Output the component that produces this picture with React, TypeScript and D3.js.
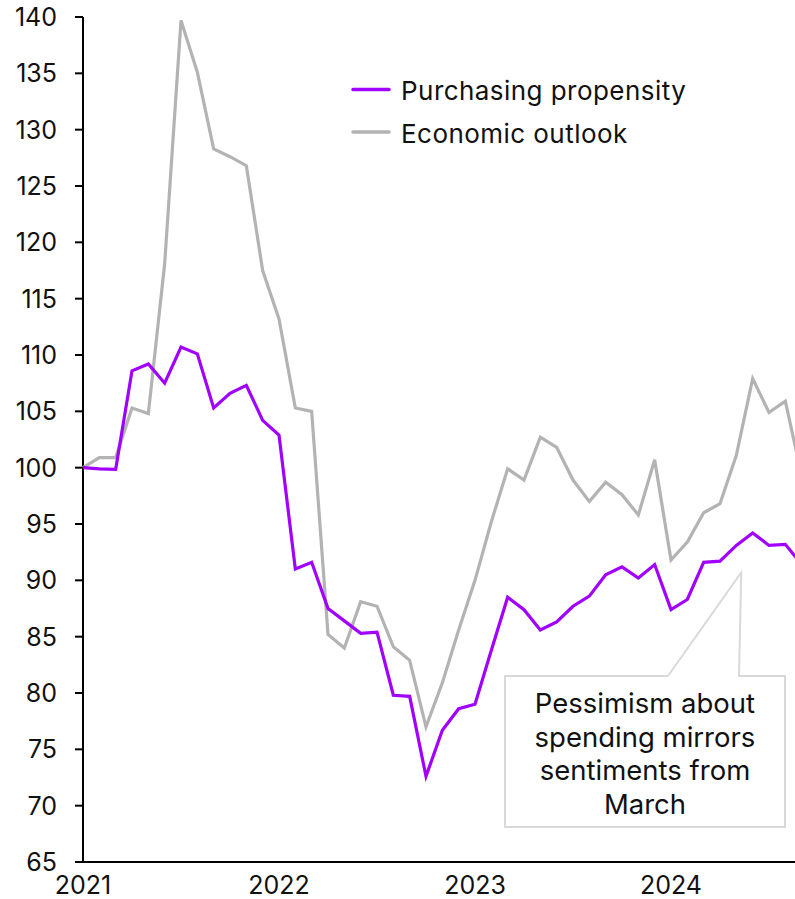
import React from "react";
import * as d3 from "d3";

const yearLabels = ["2021", "2022", "2023", "2024"];
const yTicks = [65, 70, 75, 80, 85, 90, 95, 100, 105, 110, 115, 120, 125, 130, 135, 140];

const seriesNames = ["Purchasing propensity", "Economic outlook"];

// Monthly values, Jan 2021 onwards
const purchasing = [
  100, 99.9, 99.85, 108.6, 109.2, 107.5, 110.7, 110.1, 105.3, 106.6, 107.3, 104.2,
  102.9, 91.0, 91.6, 87.5, 86.4, 85.3, 85.4, 79.8, 79.7, 72.6, 76.7, 78.6,
  79.0, 83.8, 88.5, 87.4, 85.6, 86.3, 87.7, 88.6, 90.5, 91.2, 90.2, 91.4,
  87.4, 88.3, 91.6, 91.7, 93.1, 94.2, 93.1, 93.2, 91.4,
];
const outlook = [
  100, 100.9, 100.9, 105.3, 104.8, 118.1, 139.7, 135.1, 128.3, 127.6, 126.8, 117.5,
  113.2, 105.3, 105.0, 85.2, 84.0, 88.1, 87.7, 84.1, 82.9, 77.0, 80.9, 85.6,
  90.0, 95.2, 99.9, 98.9, 102.7, 101.8, 98.9, 97.0, 98.7, 97.6, 95.8, 100.7,
  91.8, 93.4, 96.0, 96.8, 101.1, 107.9, 104.9, 105.9, 99.3,
];
const annotationLines = ["Pessimism about", "spending mirrors", "sentiments from", "March"];

const W = 795;
const H = 899;
const FONT = "Inter, 'Noto Sans', sans-serif";
const PURPLE = "#a100ff";
const GRAY = "#b3b3b3";

export default function App() {
  const x = d3.scaleLinear().domain([0, 12]).range([83, 279]);
  const y = d3.scaleLinear().domain([65, 140]).range([862, 17]);

  const line = d3
    .line<number>()
    .x((_, i) => x(i))
    .y((d) => y(d));

  const annoApex: [number, number] = [x(40.3), y(90.7)];
  const box = { x0: 505, x1: 785, y0: 676, y1: 827, g0: 668, g1: 739 };

  return (
    <svg
      width={W}
      height={H}
      style={{ position: "absolute", left: 0, top: 0, background: "#fff" }}
      fontFamily={FONT}
    >
      {/* y axis */}
      <line x1={x(0)} x2={x(0)} y1={y(140)} y2={y(65) + 1} stroke="#000" strokeWidth={2} />
      {yTicks.map((t) => (
        <g key={t}>
          <line x1={x(0) - 8} x2={x(0)} y1={y(t)} y2={y(t)} stroke="#000" strokeWidth={2} />
          <text
            x={57}
            y={y(t)}
            textAnchor="end"
            dominantBaseline="central"
            fontSize={25}
            fill="#111"
          >
            {t}
          </text>
        </g>
      ))}
      {/* x axis */}
      <line x1={x(0) - 1} x2={W} y1={y(65)} y2={y(65)} stroke="#000" strokeWidth={2} />
      {yearLabels.map((l, i) => (
        <text key={l} x={x(i * 12)} y={894} textAnchor="middle" fontSize={25} fill="#111">
          {l}
        </text>
      ))}

      {/* series */}
      <path d={line(outlook) || ""} fill="none" stroke={GRAY} strokeWidth={3.2} strokeLinejoin="miter" />
      <path d={line(purchasing) || ""} fill="none" stroke={PURPLE} strokeWidth={3.2} strokeLinejoin="miter" />

      {/* legend */}
      {seriesNames.map((n, i) => (
        <g key={n}>
          <line
            x1={353}
            x2={389}
            y1={89.5 + i * 42.5}
            y2={89.5 + i * 42.5}
            stroke={i === 0 ? PURPLE : GRAY}
            strokeWidth={3.5}
            strokeLinecap="round"
          />
          <text x={401} y={100 + i * 42.5} fontSize={26} letterSpacing={0.45} fill="#111">
            {n}
          </text>
        </g>
      ))}

      {/* annotation */}
      <path
        d={`M${box.g0},${box.y0} L${box.x0},${box.y0} L${box.x0},${box.y1} L${box.x1},${box.y1} L${box.x1},${box.y0} L${box.g1},${box.y0} L${annoApex[0]},${annoApex[1]} L${box.g0},${box.y0}`}
        fill="#fff"
        stroke="#d9d9d9"
        strokeWidth={2}
      />
      {annotationLines.map((l, i) => (
        <text key={l} x={645} y={713 + i * 33.7} textAnchor="middle" fontSize={27.5} fill="#111">
          {l}
        </text>
      ))}
    </svg>
  );
}
